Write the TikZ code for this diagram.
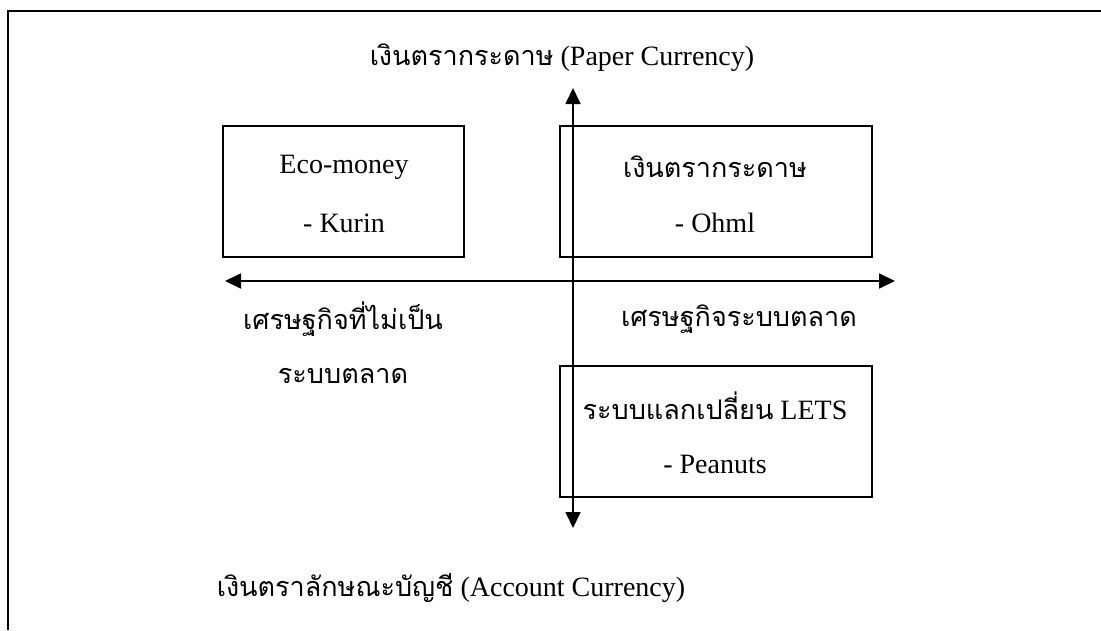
\documentclass[tikz,border=0pt]{standalone}
\usepackage{fontspec}
\setmainfont{Liberation Serif}
\newfontfamily\thai[Script=Thai]{Loma}
\usetikzlibrary{arrows.meta}
\tikzset{
  frameline/.style={line width=2.6pt},
  quadbox/.style={draw,line width=1.8pt,minimum width=241pt,minimum height=131pt,inner sep=0pt},
  axis/.style={line width=1.8pt,{Triangle[length=16pt,width=15pt]}-{Triangle[length=16pt,width=15pt]}},
  lbl/.style={font=\fontsize{28}{28}\selectfont,inner sep=0pt,anchor=center},
}
\newcommand{\thtxt}[1]{{\thai\fontsize{27}{27}\selectfont #1}}
\begin{document}
\begin{tikzpicture}[x=1pt,y=-1pt]
\useasboundingbox (0,0) rectangle (1101,630);
\coordinate (ftop) at (1101,11);
\coordinate (fcorner) at (8,11);
\coordinate (fbot) at (8,630);
\draw[frameline] (ftop) -- (fcorner) -- (fbot);

\node[lbl] (title) at (562,58) {\thtxt{เงินตรากระดาษ} (Paper Currency)};
\node[lbl] (bottom) at (451,588) {\thtxt{เงินตราลักษณะบัญชี} (Account Currency)};

\node[quadbox,minimum width=241pt] (eco) at (343.5,191.5) {};
\node[quadbox,minimum width=312pt] (paper) at (716,191.5) {};
\node[quadbox,minimum width=312pt] (lets) at (716,431.5) {};

\node[lbl] (ecot) at (344,167) {Eco-money};
\node[lbl] (ecos) at (344,223) {- Kurin};
\node[lbl] (papt) at (715,167) {\thtxt{เงินตรากระดาษ}};
\node[lbl] (paps) at (715,223) {- Ohml};
\node[lbl] (letst) at (715,406) {\thtxt{ระบบแลกเปลี่ยน} LETS};
\node[lbl] (letss) at (715,464) {- Peanuts};

\node[lbl] (nonm1) at (343,319) {\thtxt{เศรษฐกิจที่ไม่เป็น}};
\node[lbl] (nonm2) at (343,376) {\thtxt{ระบบตลาด}};
\node[lbl] (mkt) at (739,319) {\thtxt{เศรษฐกิจระบบตลาด}};

\coordinate (up) at (573,88);
\coordinate (down) at (573,528);
\coordinate (left) at (225,281);
\coordinate (right) at (895,281);
\draw[axis] (left) -- (right);
\draw[axis] (up) -- (down);
\end{tikzpicture}
\end{document}
